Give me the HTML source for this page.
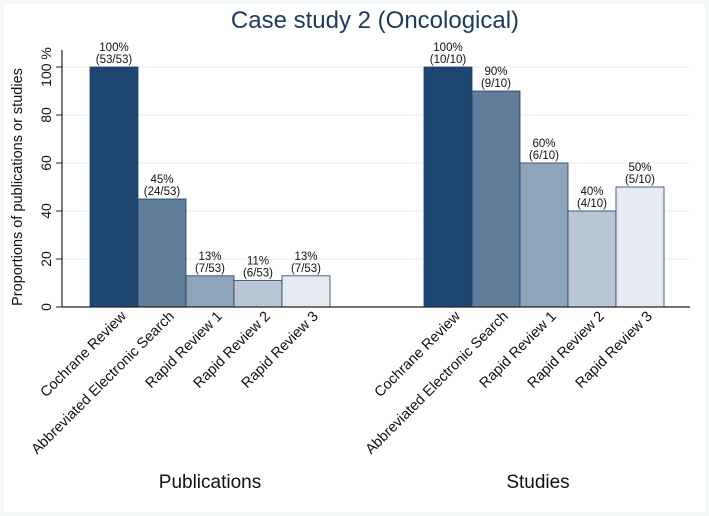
<!DOCTYPE html>
<html><head><meta charset="utf-8"><style>
body{margin:0;background:#fff;}
svg{display:block;font-family:"Liberation Sans",sans-serif;}
</style></head><body>
<svg width="709" height="516" viewBox="0 0 709 516">
<rect x="0" y="0" width="709" height="516" fill="#f4f8f9"/>
<rect x="4" y="4" width="701" height="508" fill="#fff"/>
<text x="375" y="28" font-size="24" fill="#1c3a5e" text-anchor="middle">Case study 2 (Oncological)</text>
<g id="grid"></g>
<g id="bars"></g>
<g id="labels"></g>
<line x1="62" y1="307" x2="690" y2="307" stroke="#222" stroke-width="1.2"/>
<line x1="62" y1="50" x2="62" y2="307" stroke="#222" stroke-width="1.2"/>
<text transform="translate(22,187) rotate(-90)" font-size="14.5" text-anchor="middle" fill="#111">Proportions of publications or studies</text>
<text x="210" y="488" font-size="19" text-anchor="middle" fill="#111">Publications</text>
<text x="538" y="488" font-size="19" text-anchor="middle" fill="#111">Studies</text>
</svg>
<script>
const categories=["Cochrane Review","Abbreviated Electronic Search","Rapid Review 1","Rapid Review 2","Rapid Review 3"];
const pubValues=[100,45,13,11,13];
const pubLabels=["(53/53)","(24/53)","(7/53)","(6/53)","(7/53)"];
const studyValues=[100,90,60,40,50];
const studyLabels=["(10/10)","(9/10)","(6/10)","(4/10)","(5/10)"];
const yTicks=[0,20,40,60,80,100];
const colors=["#1e4670","#5f7c99","#8ea4ba","#b9c7d5","#e5ebf1"];
const NS="http://www.w3.org/2000/svg";
const y=v=>307-v*2.4;
const bw=48;
const grid=document.getElementById('grid'),bars=document.getElementById('bars'),labels=document.getElementById('labels');
function mk(tag,attrs,parent){const e=document.createElementNS(NS,tag);for(const k in attrs)e.setAttribute(k,attrs[k]);parent.appendChild(e);return e;}
yTicks.forEach(t=>{
  if(t>0){const g=mk('line',{x1:62,x2:690,y1:y(t),y2:y(t),stroke:'#e3eef0','stroke-width':1},grid);
  
  }
  const tk=mk('line',{x1:56,x2:62,y1:y(t),y2:y(t),stroke:'#222'},grid);
  
  
  const tx=mk('text',{transform:`translate(51,${y(t)}) rotate(-90)`,'font-size':14,'text-anchor':'middle',fill:'#111'},grid);
  tx.textContent=t===100?'100 %':t;
  
  
});
function group(x0,vals,labs,name){
  vals.forEach((v,i)=>{
    const x=x0+i*bw;
    const r=mk('rect',{x:x,y:y(v),width:bw,height:307-y(v),fill:colors[i],stroke:'#1e3e60','stroke-width':0.8},bars);
    
    
    const t1=mk('text',{x:x+bw/2,y:y(v)-16,'font-size':11.5,'text-anchor':'middle',fill:'#111'},labels);
    t1.textContent=v+'%';
    
    
    const t2=mk('text',{x:x+bw/2,y:y(v)-4,'font-size':11.5,'text-anchor':'middle',fill:'#111'},labels);
    t2.textContent=labs[i];
    
    
    const c=mk('text',{transform:`translate(${x+bw/2+13},${317}) rotate(-45)`,'font-size':14.5,'text-anchor':'end',fill:'#111'},labels);
    c.textContent=categories[i];
    
    
  });
}
group(90,pubValues,pubLabels,'publications');
group(424,studyValues,studyLabels,'studies');
</script>
</body></html>
